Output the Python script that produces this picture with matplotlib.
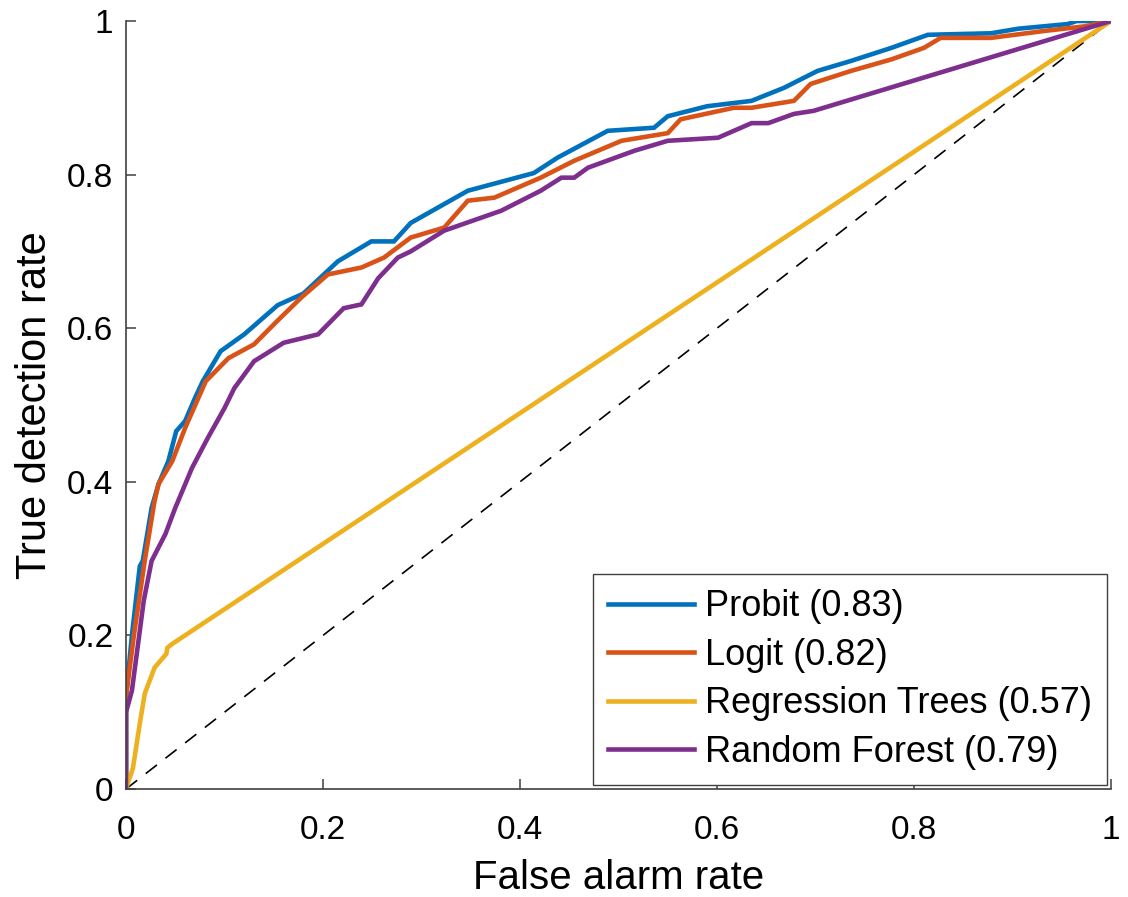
import matplotlib
matplotlib.use("Agg")
import matplotlib.pyplot as plt
from matplotlib.ticker import FuncFormatter

plt.rcParams['font.family'] = ['Liberation Sans', 'DejaVu Sans']

# ---- data ----
probit_x = [0, 0.0, 0.006, 0.014, 0.017, 0.026, 0.033, 0.043, 0.051, 0.060, 0.070, 0.078,
            0.096, 0.120, 0.154, 0.180, 0.215, 0.249, 0.272, 0.289, 0.347, 0.414,
            0.438, 0.489, 0.536, 0.550, 0.590, 0.635, 0.668, 0.702, 0.736, 0.777,
            0.814, 0.878, 0.906, 0.956, 0.965, 1.0]
probit_y = [0, 0.12, 0.20, 0.29, 0.297, 0.366, 0.397, 0.427, 0.466, 0.479, 0.509, 0.531,
            0.570, 0.592, 0.630, 0.645, 0.687, 0.713, 0.713, 0.737, 0.779, 0.802,
            0.822, 0.857, 0.861, 0.876, 0.889, 0.896, 0.913, 0.935, 0.948, 0.965,
            0.982, 0.984, 0.990, 0.996, 1.0, 1.0]

logit_x = [0, 0.0, 0.008, 0.019, 0.029, 0.033, 0.047, 0.060, 0.081, 0.104, 0.130,
           0.154, 0.178, 0.205, 0.239, 0.262, 0.289, 0.323, 0.347, 0.374, 0.421,
           0.455, 0.503, 0.550, 0.563, 0.617, 0.635, 0.678, 0.695, 0.736, 0.777,
           0.810, 0.827, 0.878, 0.932, 0.973, 1.0]
logit_y = [0, 0.12, 0.20, 0.297, 0.375, 0.397, 0.427, 0.470, 0.531, 0.561, 0.579,
           0.610, 0.640, 0.670, 0.679, 0.692, 0.718, 0.731, 0.766, 0.770, 0.796,
           0.818, 0.844, 0.854, 0.872, 0.887, 0.887, 0.896, 0.918, 0.935, 0.950,
           0.965, 0.978, 0.978, 0.987, 0.993, 1.0]

trees_x = [0, 0.007, 0.014, 0.019, 0.029, 0.041, 0.042, 0.047, 1.0]
trees_y = [0, 0.027, 0.085, 0.124, 0.158, 0.176, 0.184, 0.189, 1.0]

forest_x = [0, 0.0, 0.006, 0.018, 0.026, 0.040, 0.050, 0.067, 0.083, 0.100, 0.110,
            0.130, 0.160, 0.195, 0.221, 0.239, 0.256, 0.276, 0.289, 0.323, 0.381,
            0.421, 0.442, 0.455, 0.469, 0.516, 0.550, 0.601, 0.635, 0.652, 0.678,
            0.698, 1.0]
forest_y = [0, 0.10, 0.128, 0.245, 0.297, 0.332, 0.366, 0.418, 0.457, 0.496, 0.522,
            0.557, 0.581, 0.592, 0.626, 0.631, 0.665, 0.692, 0.700, 0.727, 0.753,
            0.779, 0.796, 0.796, 0.809, 0.831, 0.844, 0.848, 0.867, 0.867, 0.879,
            0.883, 1.0]

labels = ["Probit (0.83)", "Logit (0.82)", "Regression Trees (0.57)", "Random Forest (0.79)"]
colors = ["#0072BD", "#D95319", "#EDB120", "#7E2F8E"]
ticks = [0, 0.2, 0.4, 0.6, 0.8, 1]

fig = plt.figure(figsize=(11.28, 8.97), dpi=100)
ax = fig.add_axes([0.1117, 0.1204, 0.8733, 0.8562])

ax.plot([0, 1], [0, 1], linestyle=(0, (8.5, 6.5)), color='black', linewidth=1.2, zorder=1)
series = [(probit_x, probit_y), (logit_x, logit_y), (trees_x, trees_y), (forest_x, forest_y)]
for (xs, ys), lab, col in zip(series, labels, colors):
    ax.plot(xs, ys, color=col, linewidth=3.3, label=lab, solid_joinstyle='miter', zorder=2)

ax.set_xlim(0, 1)
ax.set_ylim(0, 1)
ax.set_xticks(ticks)
ax.set_yticks(ticks)
fmt = FuncFormatter(lambda v, p: ('%g' % v))
ax.xaxis.set_major_formatter(fmt)
ax.yaxis.set_major_formatter(fmt)
for s in ['top', 'right']:
    ax.spines[s].set_visible(False)
for s in ['left', 'bottom']:
    ax.spines[s].set_color('#404040')
    ax.spines[s].set_linewidth(1.2)
ax.tick_params(direction='in', length=7, width=1.1, color='#404040', labelsize=24)
ax.tick_params(axis='x', pad=19)
ax.tick_params(axis='y', pad=9)

ax.set_xlabel("False alarm rate", fontsize=29, labelpad=9)
ax.set_ylabel("True detection rate", fontsize=30, labelpad=9)

leg = ax.legend(loc='lower right', fontsize=26, handlelength=2.4, handletextpad=0.28,
                labelspacing=0.37, borderpad=0.42, borderaxespad=0.12, fancybox=False,
                framealpha=1, edgecolor='#404040', bbox_to_anchor=(1.0, 0.0))
leg.get_frame().set_linewidth(1.0)

fig.savefig("out.png", dpi=100)
